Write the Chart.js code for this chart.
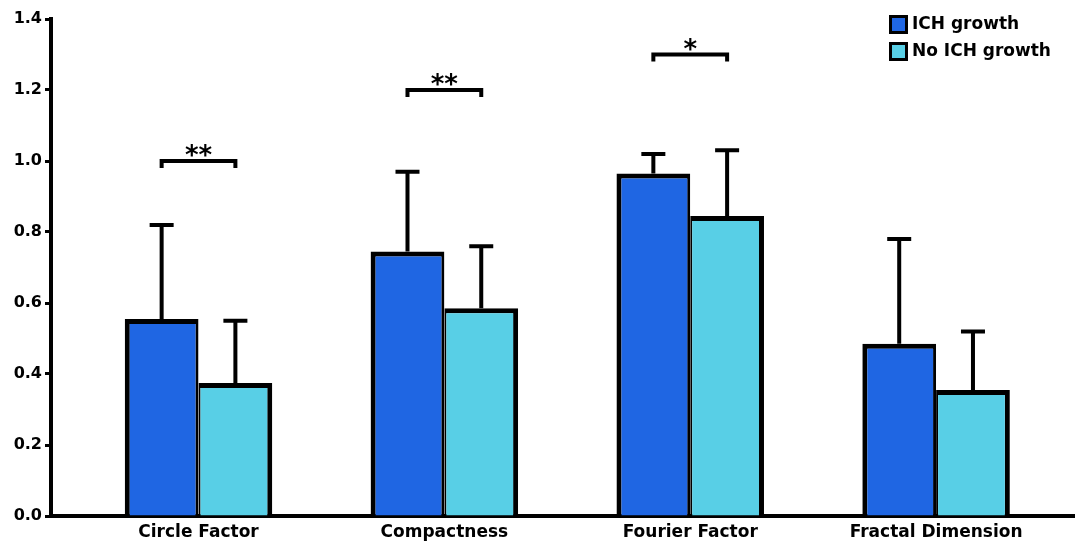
<!DOCTYPE html>
<html>
<head>
<meta charset="utf-8">
<script src="https://cdn.jsdelivr.net/npm/chart.js@4.4.1/dist/chart.umd.min.js"></script>
<style>
  html, body { margin: 0; padding: 0; background: #ffffff; }
  #wrap { width: 1075px; height: 545px; }
</style>
</head>
<body>
<div id="wrap"><canvas id="chart" width="1075" height="545"></canvas></div>
<script>
// categories and values
const categories = ['Circle Factor', 'Compactness', 'Fourier Factor', 'Fractal Dimension'];
const ichMean = [0.555, 0.745, 0.965, 0.485];
const ichSD = [0.265, 0.225, 0.055, 0.295];
const noIchMean = [0.375, 0.585, 0.845, 0.355];
const noIchSD = [0.175, 0.175, 0.185, 0.165];
// significance brackets (height in data units) and their labels
const sigY = [1.0, 1.2, 1.3, null];
const sigLabel = ['**', '**', '*', ''];
const yTicks = [0, 0.2, 0.4, 0.6, 0.8, 1.0, 1.2, 1.4];

const FONT = "'DejaVu Sans', 'Liberation Sans', Arial, sans-serif";
const errs = [ichSD, noIchSD];

const extras = {
  id: 'extras',
  afterDatasetsDraw(chart) {
    const ctx = chart.ctx;
    const y = chart.scales.y;
    ctx.save();
    ctx.strokeStyle = '#000';
    ctx.lineWidth = 4;
    // error bars (upper only)
    chart.data.datasets.forEach((ds, i) => {
      const meta = chart.getDatasetMeta(i);
      meta.data.forEach((bar, j) => {
        const top = y.getPixelForValue(ds.data[j].y + errs[i][j]);
        ctx.beginPath();
        ctx.moveTo(bar.x, bar.y);
        ctx.lineTo(bar.x, top);
        ctx.moveTo(bar.x - 12, top);
        ctx.lineTo(bar.x + 12, top);
        ctx.stroke();
      });
    });
    // significance brackets
    const m0 = chart.getDatasetMeta(0), m1 = chart.getDatasetMeta(1);
    ctx.font = 'bold 26px ' + FONT;
    ctx.textAlign = 'center';
    ctx.textBaseline = 'alphabetic';
    ctx.fillStyle = '#000';
    sigY.forEach((v, j) => {
      if (v == null) return;
      const x0 = m0.data[j].x, x1 = m1.data[j].x;
      const py = y.getPixelForValue(v);
      ctx.beginPath();
      ctx.moveTo(x0, py + 7);
      ctx.lineTo(x0, py);
      ctx.lineTo(x1, py);
      ctx.lineTo(x1, py + 7);
      ctx.stroke();
      ctx.fillText(sigLabel[j], (x0 + x1) / 2, py + 3);
    });
    ctx.restore();
  },
  afterDraw(chart) {
    // legend, top right
    const ctx = chart.ctx;
    ctx.save();
    ctx.font = 'bold 17px ' + FONT;
    ctx.textBaseline = 'middle';
    ctx.textAlign = 'left';
    chart.data.datasets.forEach((ds, i) => {
      const bx = 889, by = 15 + i * 27;
      ctx.fillStyle = '#000';
      ctx.fillRect(bx, by, 19, 19);
      ctx.fillStyle = ds.backgroundColor;
      ctx.fillRect(bx + 3, by + 3, 13, 13);
      ctx.fillStyle = '#000';
      ctx.fillText(ds.label, bx + 23, by + 10);
    });
    ctx.restore();
  }
};

new Chart(document.getElementById('chart'), {
  type: 'bar',
  data: {
    datasets: [
      {
        label: 'ICH growth',
        data: ichMean.map((v, i) => ({ x: i, y: v })),
        backgroundColor: '#1f66e3',
        borderColor: '#000000',
        borderWidth: { left: 5, top: 5, right: 3, bottom: 0 },
        borderSkipped: false
      },
      {
        label: 'No ICH growth',
        data: noIchMean.map((v, i) => ({ x: i, y: v })),
        backgroundColor: '#58cfe6',
        borderColor: '#000000',
        borderWidth: { left: 2, top: 5, right: 5, bottom: 0 },
        borderSkipped: false
      }
    ]
  },
  options: {
    responsive: false,
    animation: false,
    devicePixelRatio: 1,
    categoryPercentage: 0.6,
    barPercentage: 1.0,
    layout: { padding: { top: 19, right: 0, bottom: 0, left: 0 } },
    plugins: { legend: { display: false }, tooltip: { enabled: false } },
    scales: {
      x: {
        type: 'linear',
        offset: false,
        min: -0.6,
        max: 3.565,
        afterBuildTicks: (s) => { s.ticks = categories.map((c, i) => ({ value: i })); },
        afterFit: (s) => { s.height = 29; },
        grid: { display: false, drawTicks: false },
        border: { display: true, color: '#000', width: 4 },
        ticks: {
          callback: (v) => categories[v],
          color: '#000',
          padding: 6,
          maxRotation: 0,
          autoSkip: false,
          font: { family: FONT, size: 17, weight: 'bold' }
        }
      },
      y: {
        min: 0,
        max: 1.4,
        afterBuildTicks: (s) => { s.ticks = yTicks.map(v => ({ value: v })); },
        afterFit: (s) => { s.width = 51; },
        grid: { drawOnChartArea: false, drawTicks: true, tickLength: 6, tickWidth: 3, tickColor: '#000' },
        border: { display: true, color: '#000', width: 4 },
        ticks: {
          callback: (v) => v.toFixed(1),
          color: '#000',
          padding: 3,
          font: { family: FONT, size: 16, weight: 'bold' }
        }
      }
    }
  },
  plugins: [extras]
});
</script>
</body>
</html>
